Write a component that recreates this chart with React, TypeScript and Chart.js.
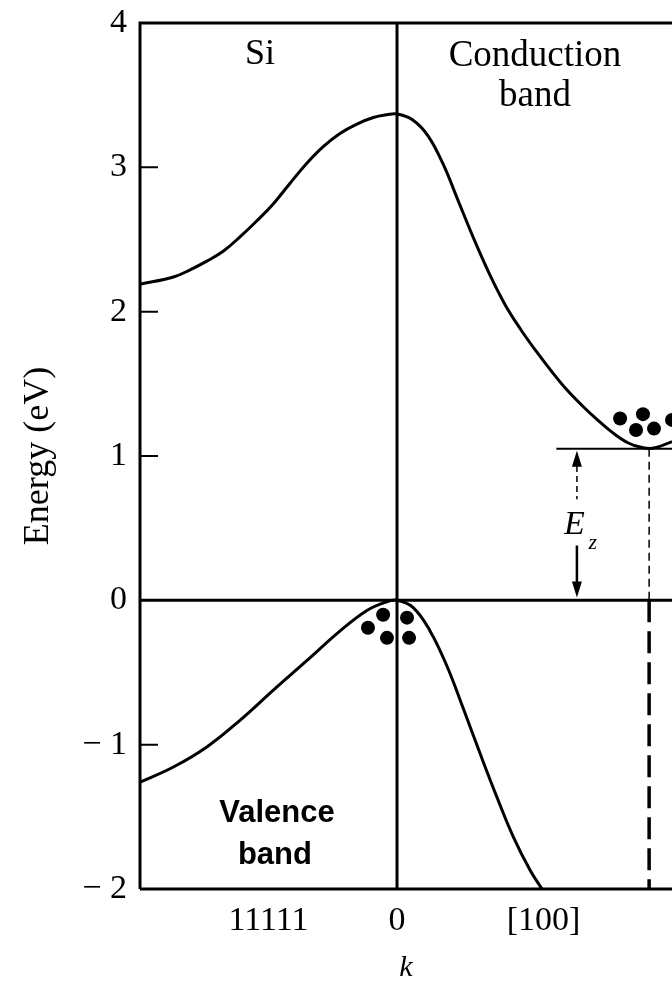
import React, { useEffect, useRef } from "react";
import { Chart, registerables } from "chart.js";

Chart.register(...registerables);

// ---- axis ranges & ticks ----
const X_MIN = -1;
const X_MAX = 1.07;
const Y_MIN = -2;
const Y_MAX = 4;
const yInnerTicks = [-1, 1, 2, 3];
const xTickValues = [-0.5, 0, 0.57];
const xTickLabels = ["11111", "0", "[100]"];

// ---- conduction band (k, E) ----
const condK = [-1.0, -0.87, -0.805, -0.74, -0.675, -0.61, -0.545, -0.48, -0.416, -0.35, -0.286, -0.222, -0.156, -0.092, -0.04, 0, 0.06, 0.12, 0.18, 0.24, 0.3, 0.36, 0.42, 0.48, 0.54, 0.6, 0.66, 0.72, 0.78, 0.84, 0.9, 0.95, 1.0, 1.07];
const condE = [2.19, 2.24, 2.29, 2.35, 2.42, 2.52, 2.63, 2.75, 2.89, 3.03, 3.145, 3.235, 3.3, 3.345, 3.364, 3.37, 3.33, 3.22, 3.02, 2.76, 2.5, 2.26, 2.05, 1.88, 1.73, 1.59, 1.46, 1.35, 1.25, 1.16, 1.09, 1.06, 1.055, 1.1];

// ---- valence band (k, E) ----
const valK = [-1.0, -0.87, -0.74, -0.61, -0.48, -0.35, -0.22, -0.117, -0.04, 0, 0.063, 0.128, 0.193, 0.258, 0.323, 0.388, 0.453, 0.518, 0.564];
const valE = [-1.26, -1.155, -1.016, -0.83, -0.62, -0.416, -0.21, -0.07, -0.01, 0, -0.05, -0.21, -0.45, -0.75, -1.06, -1.36, -1.64, -1.87, -2.0];

// ---- carriers ----
const electronK = [0.868, 0.957, 0.93, 1.0, 1.07];
const electronE = [1.26, 1.29, 1.18, 1.19, 1.25];
const holeK = [-0.054, -0.113, -0.039, 0.039, 0.047];
const holeE = [-0.1, -0.19, -0.26, -0.12, -0.26];

// ---- gap markers ----
const ecEnergy = 1.05;
const ecLineStartK = 0.62;
const minimumK = 0.981;
const arrowK = 0.7;
const arrowTopShaft = [1.0, 0.7];
const arrowBottomShaft = [0.38, 0.06];
const arrowBottomTip = 0.02;

const SERIF = '"Liberation Serif", "Times New Roman", serif';
const SANS = '"Liberation Sans", Arial, sans-serif';

const pts = (ks: number[], es: number[]) => ks.map((k, i) => ({ x: k, y: es[i] }));

const framePlugin = {
  id: "frame",
  afterDatasetsDraw(chart: any) {
    const { ctx, chartArea: a, scales } = chart;
    const x = scales.x;
    const y = scales.y;
    ctx.save();
    ctx.strokeStyle = "#000";
    ctx.fillStyle = "#000";
    ctx.lineWidth = 3;
    ctx.beginPath();
    ctx.moveTo(a.left, a.bottom);
    ctx.lineTo(a.left, a.top);
    ctx.lineTo(a.right, a.top);
    ctx.moveTo(a.left, a.bottom);
    ctx.lineTo(a.right, a.bottom);
    ctx.stroke();

    ctx.lineWidth = 2;
    ctx.beginPath();
    for (const v of yInnerTicks) {
      const py = y.getPixelForValue(v);
      ctx.moveTo(a.left, py);
      ctx.lineTo(a.left + 18, py);
    }
    ctx.stroke();

    // arrow heads
    const ax = x.getPixelForValue(arrowK);
    const topY = y.getPixelForValue(ecEnergy);
    ctx.beginPath();
    ctx.moveTo(ax, topY + 2);
    ctx.lineTo(ax - 5, topY + 18);
    ctx.lineTo(ax + 5, topY + 18);
    ctx.closePath();
    ctx.fill();
    const botY = y.getPixelForValue(arrowBottomTip);
    ctx.beginPath();
    ctx.moveTo(ax, botY);
    ctx.lineTo(ax - 5, botY - 16);
    ctx.lineTo(ax + 5, botY - 16);
    ctx.closePath();
    ctx.fill();

    // labels
    ctx.textAlign = "center";
    ctx.textBaseline = "middle";
    const label = (t: string, k: number, e: number, font: string) => {
      ctx.font = font;
      ctx.fillText(t, x.getPixelForValue(k), y.getPixelForValue(e));
    };
    label("Si", -0.533, 3.78, `36px ${SERIF}`);
    label("Conduction", 0.537, 3.77, `37px ${SERIF}`);
    label("band", 0.537, 3.49, `37px ${SERIF}`);
    label("Valence", -0.467, -1.48, `bold 31px ${SANS}`);
    label("band", -0.475, -1.77, `bold 31px ${SANS}`);
    label("E", 0.69, 0.52, `italic 34px ${SERIF}`);
    label("z", 0.762, 0.395, `italic 22px ${SERIF}`);
    ctx.restore();
  },
};

export default function App() {
  const ref = useRef<HTMLCanvasElement | null>(null);

  useEffect(() => {
    if (!ref.current) return;
    const line = (data: any[], width: number, dash: number[] = []) => ({
      type: "line",
      data,
      borderColor: "#000",
      borderWidth: width,
      borderDash: dash,
      pointRadius: 0,
      fill: false,
      tension: 0,
    });
    const chart = new Chart(ref.current, {
      type: "line",
      data: {
        datasets: [
          { ...line(pts(condK, condE), 3), tension: 0.4 },
          { ...line(pts(valK, valE), 3), tension: 0.4 },
          line([{ x: X_MIN, y: 0 }, { x: X_MAX, y: 0 }], 3),
          line([{ x: 0, y: Y_MIN }, { x: 0, y: Y_MAX }], 3),
          line([{ x: ecLineStartK, y: ecEnergy }, { x: X_MAX, y: ecEnergy }], 2),
          line([{ x: minimumK, y: ecEnergy }, { x: minimumK, y: 0 }], 1.5, [8, 5]),
          line([{ x: minimumK, y: 0 }, { x: minimumK, y: Y_MIN }], 3.5, [22, 9]),
          line([{ x: arrowK, y: arrowTopShaft[0] }, { x: arrowK, y: arrowTopShaft[1] }], 1.5, [6, 4]),
          line([{ x: arrowK, y: arrowBottomShaft[0] }, { x: arrowK, y: arrowBottomShaft[1] }], 2.5),
          {
            type: "scatter",
            data: pts(electronK, electronE),
            pointRadius: 7,
            pointBackgroundColor: "#000",
            pointBorderWidth: 0,
            showLine: false,
          },
          {
            type: "scatter",
            data: pts(holeK, holeE),
            pointRadius: 7,
            pointBackgroundColor: "#000",
            pointBorderWidth: 0,
            showLine: false,
          },
        ] as any,
      },
      options: {
        animation: false,
        responsive: false,
        maintainAspectRatio: false,
        layout: { autoPadding: false, padding: { top: 23, right: 0, left: 0, bottom: 0 } },
        plugins: { legend: { display: false }, tooltip: { enabled: false } },
        scales: {
          x: {
            type: "linear",
            min: X_MIN,
            max: X_MAX,
            grid: { display: false, drawTicks: false },
            border: { display: false },
            afterBuildTicks: (s: any) => {
              s.ticks = xTickValues.map((v) => ({ value: v }));
            },
            afterFit: (s: any) => {
              s.height = 94;
              s.paddingLeft = 0;
              s.paddingRight = 0;
            },
            ticks: {
              autoSkip: false,
              maxRotation: 0,
              color: "#000",
              padding: 12,
              font: { family: SERIF, size: 34 },
              callback: (v: any) => {
                const i = xTickValues.indexOf(Number(v));
                return i >= 0 ? xTickLabels[i] : "";
              },
            },
            title: {
              display: true,
              text: "k",
              color: "#000",
              font: { family: SERIF, size: 30, style: "italic", lineHeight: 1 },
              padding: { top: 0, bottom: 0 },
            },
          },
          y: {
            type: "linear",
            min: Y_MIN,
            max: Y_MAX,
            grid: { display: false, drawTicks: false },
            border: { display: false },
            afterFit: (s: any) => {
              s.width = 140;
              s.paddingTop = 0;
              s.paddingBottom = 0;
            },
            ticks: {
              stepSize: 1,
              color: "#000",
              padding: 13,
              font: { family: SERIF, size: 34 },
              callback: (v: any) => (Number(v) < 0 ? "\u2212 " + Math.abs(Number(v)) : String(v)),
            },
            title: {
              display: true,
              text: "Energy (eV)",
              color: "#000",
              font: { family: SERIF, size: 36 },
              padding: { top: 17, bottom: 0 },
            },
          },
        },
      } as any,
      plugins: [framePlugin],
    });
    return () => chart.destroy();
  }, []);

  return (
    <div style={{ position: "absolute", left: 0, top: 0, width: 672, height: 983, background: "#fff" }}>
      <canvas ref={ref} width={672} height={983} style={{ display: "block", width: 672, height: 983 }} />
    </div>
  );
}
